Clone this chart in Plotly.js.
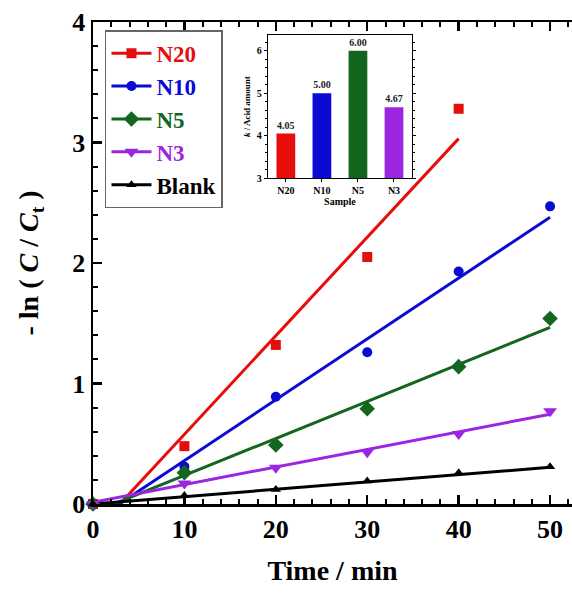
<!DOCTYPE html>
<html><head><meta charset="utf-8">
<script src="https://cdn.plot.ly/plotly-3.0.1.min.js"></script>
<style>html,body{margin:0;padding:0;background:#fff}#plot{width:572px;height:594px}</style>
</head><body><div id="plot"></div>
<script>
// ---- data ----
const seriesNames = ['N20', 'N10', 'N5', 'N3', 'Blank'];
const timeX = [0, 10, 20, 30, 40, 50];
const yN20 = [0, 0.48, 1.32, 2.05, 3.28];
const yN10 = [0, 0.31, 0.89, 1.26, 1.93, 2.47];
const yN5 = [0, 0.26, 0.49, 0.79, 1.14, 1.54];
const yN3 = [0, 0.17, 0.30, 0.43, 0.58, 0.77];
const yBlank = [0, 0.07, 0.12, 0.19, 0.26, 0.31];
// fitted lines (slope, intercept, last x)
const fitSlope = [0.0818, 0.0505, 0.0307, 0.0146, 0.0061];
const fitIntercept = [-0.24, -0.145, -0.07, 0.015, 0.0];
const fitEnd = [40, 50, 50, 50, 50];
// inset
const insetCats = ['N20', 'N10', 'N5', 'N3'];
const insetVals = [4.05, 5.00, 6.00, 4.67];
const insetLabels = ['4.05', '5.00', '6.00', '4.67'];

const colors = ['#e60d0d', '#0a0ad2', '#12661e', '#9b25e0', '#000000'];
const symbols = ['square', 'circle', 'diamond', 'triangle-down', 'triangle-up'];
const msize = [10, 10, 12, 12, 9];
const ys = [yN20, yN10, yN5, yN3, yBlank];
const FONT = 'Liberation Serif, Times New Roman, serif';

const traces = [];
for (let i = 0; i < 5; i++) {
  const x0 = 0, x1 = fitEnd[i];
  traces.push({
    x: [x0, x1], y: [fitIntercept[i] + fitSlope[i] * x0, fitIntercept[i] + fitSlope[i] * x1],
    mode: 'lines', line: {color: colors[i], width: 3}, showlegend: false, hoverinfo: 'skip',
    xaxis: 'x', yaxis: 'y'
  });
}
for (let i = 0; i < 5; i++) {
  traces.push({
    x: timeX.slice(0, ys[i].length), y: ys[i], mode: 'markers',
    marker: {color: colors[i], symbol: symbols[i], size: msize[i]},
    cliponaxis: false, showlegend: false, xaxis: 'x', yaxis: 'y'
  });
}
for (let i = 0; i < 5; i++) {
  traces.push({
    x: [null], y: [null], mode: 'lines+markers',
    name: '<span style="color:' + colors[i] + '">' + seriesNames[i] + '</span>',
    line: {color: colors[i], width: 3},
    marker: {color: colors[i], symbol: symbols[i], size: msize[i]},
    showlegend: true, xaxis: 'x', yaxis: 'y'
  });
}
traces.push({
  x: insetCats, y: insetVals, type: 'bar', xaxis: 'x2', yaxis: 'y2',
  marker: {color: colors.slice(0, 4)}, width: 0.52,
  text: insetLabels, textposition: 'outside', cliponaxis: false,
  textfont: {family: FONT, size: 10, color: '#222', weight: 'bold'},
  showlegend: false
});

const layout = {
  width: 572, height: 594,
  margin: {l: 93, r: 0, t: 22, b: 90},
  paper_bgcolor: '#fff', plot_bgcolor: '#fff',
  font: {family: FONT, color: '#000', weight: 'bold'},
  showlegend: true,
  legend: {
    x: 0.025, y: 0.983, xanchor: 'left', yanchor: 'top',
    bgcolor: '#fff', bordercolor: '#666', borderwidth: 1.5,
    font: {family: FONT, size: 23, weight: 'bold'},
    traceorder: 'normal', itemwidth: 40
  },
  xaxis: {
    domain: [0, 1], range: [0, 52.4], showgrid: false, zeroline: false,
    showline: true, linewidth: 2.5, linecolor: '#000', mirror: 'ticks',
    ticks: 'inside', ticklen: 9, tickwidth: 2.5, tickcolor: '#000', dtick: 10, tick0: 0,
    minor: {dtick: 2, ticks: 'inside', ticklen: 5, tickwidth: 2, tickcolor: '#000'},
    tickfont: {family: FONT, size: 26, weight: 'bold'},
    title: {text: 'Time / min', font: {family: FONT, size: 28, weight: 'bold'}, standoff: 18}
  },
  yaxis: {
    domain: [0, 1], range: [0, 4], showgrid: false, zeroline: false,
    showline: true, linewidth: 2.5, linecolor: '#000', mirror: false,
    ticks: 'inside', ticklen: 9, tickwidth: 2.5, tickcolor: '#000', dtick: 1, tick0: 0,
    minor: {dtick: 0.2, ticks: 'inside', ticklen: 5, tickwidth: 2, tickcolor: '#000'},
    tickfont: {family: FONT, size: 26, weight: 'bold'},
    title: {text: '- ln ( <i>C</i> / <i>C</i><sub>t</sub> )', font: {family: FONT, size: 28, weight: 'bold'}, standoff: 26}
  },
  xaxis2: {
    domain: [0.365, 0.666], anchor: 'y2', showgrid: false, zeroline: false,
    showline: true, linewidth: 1.2, linecolor: '#000', mirror: true,
    ticks: 'outside', ticklen: 3, tickwidth: 1, tickcolor: '#000',
    tickfont: {family: FONT, size: 10, weight: 'bold'},
    title: {text: 'Sample', font: {family: FONT, size: 10, weight: 'bold'}, standoff: 2}
  },
  yaxis2: {
    domain: [0.676, 0.973], anchor: 'x2', range: [3, 6.37], showgrid: false, zeroline: false,
    showline: true, linewidth: 1.2, linecolor: '#000', mirror: 'ticks',
    ticks: 'outside', ticklen: 3, tickwidth: 1, tickcolor: '#000', dtick: 1, tick0: 3,
    minor: {dtick: 0.2, ticks: 'outside', ticklen: 2, tickwidth: 1, tickcolor: '#000'},
    tickfont: {family: FONT, size: 10, weight: 'bold'},
    title: {text: '<i>k</i> / Acid amount', font: {family: FONT, size: 9, weight: 'bold'}, standoff: 4}
  }
};
Plotly.newPlot('plot', traces, layout, {displayModeBar: false, staticPlot: true});
</script></body></html>
